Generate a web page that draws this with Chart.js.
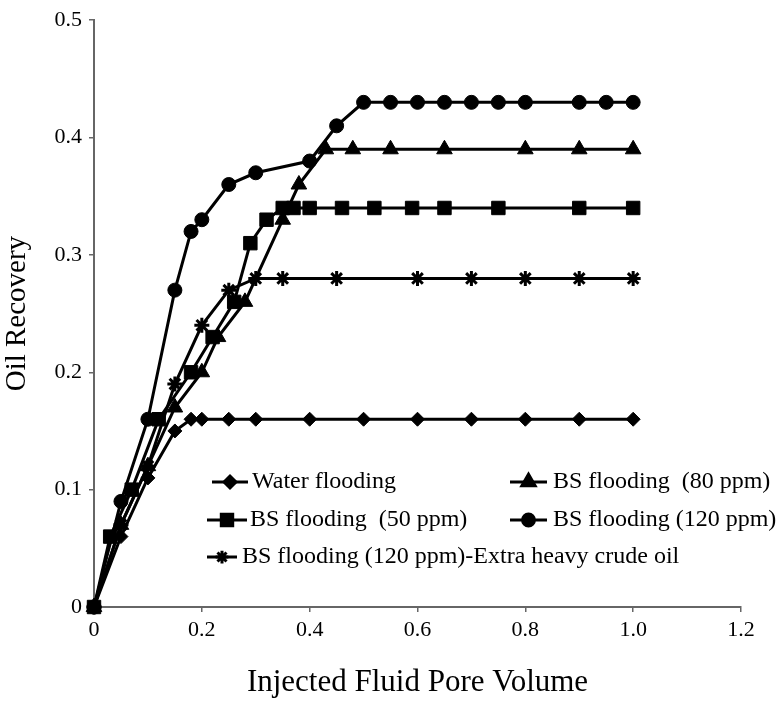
<!DOCTYPE html>
<html>
<head>
<meta charset="utf-8">
<title>Oil Recovery</title>
<script src="https://cdn.jsdelivr.net/npm/chart.js@4.4.1/dist/chart.umd.min.js"></script>
<style>
    body { margin: 0; background: #fff; }
    #chartBox { width: 782px; height: 702px; }
</style>
</head>
<body>
<div id="chartBox"><canvas id="recoveryChart" width="782" height="702"></canvas></div>
<script>
    // Axis ticks
    var xTicks = [0, 0.2, 0.4, 0.6, 0.8, 1.0, 1.2];
    var xTickLabels = ['0', '0.2', '0.4', '0.6', '0.8', '1.0', '1.2'];
    var yTicks = [0, 0.1, 0.2, 0.3, 0.4, 0.5];
    var yTickLabels = ['0', '0.1', '0.2', '0.3', '0.4', '0.5'];

    // Water flooding
    var waterX = [0, 0.05, 0.1, 0.15, 0.18, 0.2, 0.25, 0.3, 0.4, 0.5, 0.6, 0.7, 0.8, 0.9, 1.0];
    var waterY = [0, 0.06, 0.11, 0.15, 0.16, 0.16, 0.16, 0.16, 0.16, 0.16, 0.16, 0.16, 0.16, 0.16, 0.16];

    // BS flooding (50 ppm)
    var bs50X = [0, 0.03, 0.07, 0.12, 0.18, 0.22, 0.26, 0.29, 0.32, 0.35, 0.37, 0.4, 0.46, 0.52, 0.59, 0.65, 0.75, 0.9, 1.0];
    var bs50Y = [0, 0.06, 0.1, 0.16, 0.2, 0.23, 0.26, 0.31, 0.33, 0.34, 0.34, 0.34, 0.34, 0.34, 0.34, 0.34, 0.34, 0.34, 0.34];

    // BS flooding (80 ppm)
    var bs80X = [0, 0.05, 0.1, 0.15, 0.2, 0.23, 0.28, 0.35, 0.38, 0.43, 0.48, 0.55, 0.65, 0.8, 0.9, 1.0];
    var bs80Y = [0, 0.07, 0.12, 0.17, 0.2, 0.23, 0.26, 0.33, 0.36, 0.39, 0.39, 0.39, 0.39, 0.39, 0.39, 0.39];

    // BS flooding (120 ppm)
    var bs120X = [0, 0.05, 0.1, 0.15, 0.18, 0.2, 0.25, 0.3, 0.4, 0.45, 0.5, 0.55, 0.6, 0.65, 0.7, 0.75, 0.8, 0.9, 0.95, 1.0];
    var bs120Y = [0, 0.09, 0.16, 0.27, 0.32, 0.33, 0.36, 0.37, 0.38, 0.41, 0.43, 0.43, 0.43, 0.43, 0.43, 0.43, 0.43, 0.43, 0.43, 0.43];

    // BS flooding (120 ppm) - extra heavy crude oil
    var heavyX = [0, 0.05, 0.1, 0.15, 0.2, 0.25, 0.3, 0.35, 0.45, 0.6, 0.7, 0.8, 0.9, 1.0];
    var heavyY = [0, 0.07, 0.12, 0.19, 0.24, 0.27, 0.28, 0.28, 0.28, 0.28, 0.28, 0.28, 0.28, 0.28];

    (function() {
        'use strict';

        const SERIF = '"Liberation Serif", "Times New Roman", serif';

        _init();

        function _init(){
            var datasets = [
                _configSeries('Water flooding', waterX, waterY, 'rectRot', 7),
                _configSeries('BS flooding  (50 ppm)', bs50X, bs50Y, 'rect', 9.5),
                _configSeries('BS flooding (120 ppm)-Extra heavy crude oil', heavyX, heavyY, 'star', 7.5),
                _configSeries('BS flooding  (80 ppm)', bs80X, bs80Y, 'triangle', 9),
                _configSeries('BS flooding (120 ppm)', bs120X, bs120Y, 'circle', 7)
            ];

            new Chart(document.getElementById('recoveryChart'), {
                type: 'line',
                data: { datasets: datasets },
                options: {
                    responsive: false,
                    animation: false,
                    layout: { padding: { top: 10, right: 41, left: 0, bottom: 0 } },
                    plugins: {
                        legend: { display: false },
                        tooltip: { enabled: false }
                    },
                    scales: {
                        x: _configAxis(xTicks, xTickLabels, 'Injected Fluid Pore Volume', true),
                        y: _configAxis(yTicks, yTickLabels, 'Oil Recovery', false)
                    }
                },
                plugins: [_legendPlugin()]
            });
        }

        function _configSeries(label, xs, ys, style, radius){
            var points = [];
            for(var i = 0; i < xs.length; i++){
                points.push({ x: xs[i], y: ys[i] });
            }
            return {
                label: label,
                data: points,
                borderColor: '#000',
                backgroundColor: '#000',
                borderWidth: 3,
                tension: 0,
                clip: false,
                pointStyle: style,
                pointRadius: radius,
                pointBorderWidth: style === 'star' ? 3 : 1,
                pointBackgroundColor: '#000',
                pointBorderColor: '#000'
            };
        }

        function _configAxis(ticks, labels, title, isX){
            return {
                type: 'linear',
                min: ticks[0],
                max: ticks[ticks.length - 1],
                afterBuildTicks: function(scale){
                    scale.ticks = ticks.map(function(v){ return { value: v }; });
                },
                afterFit: function(scale){
                    if(isX){ scale.height = 95; } else { scale.width = 94; }
                },
                ticks: {
                    autoSkip: false,
                    maxRotation: 0,
                    padding: isX ? 5 : 7,
                    color: '#000',
                    font: { family: SERIF, size: 22 },
                    callback: function(value, index){ return labels[index]; }
                },
                grid: {
                    drawOnChartArea: false,
                    drawTicks: true,
                    tickLength: 5,
                    color: '#666',
                    lineWidth: 1.5
                },
                border: { display: true, color: '#666', width: 2 },
                title: {
                    display: true,
                    text: title,
                    color: '#000',
                    font: { family: SERIF, size: isX ? 31 : 29 },
                    padding: { top: 0, bottom: isX ? 1 : 0 }
                }
            };
        }

        // Legend drawn inside the plot, two columns like the original figure
        function _legendPlugin(){
            var spots = [
                { x1: 212, x2: 248, tx: 252, y: 482 },
                { x1: 207, x2: 247, tx: 250, y: 520 },
                { x1: 207, x2: 237, tx: 242, y: 557 },
                { x1: 510, x2: 547, tx: 553, y: 482 },
                { x1: 510, x2: 547, tx: 553, y: 520 }
            ];
            return {
                id: 'inlineLegend',
                afterDraw: function(chart){
                    var ctx = chart.ctx;
                    ctx.save();
                    chart.data.datasets.forEach(function(ds, i){
                        var s = spots[i];
                        ctx.strokeStyle = '#000';
                        ctx.lineWidth = 3;
                        ctx.beginPath();
                        ctx.moveTo(s.x1, s.y);
                        ctx.lineTo(s.x2, s.y);
                        ctx.stroke();
                        ctx.fillStyle = '#000';
                        Chart.helpers.drawPoint(ctx, {
                            pointStyle: ds.pointStyle,
                            radius: ds.pointRadius * 0.85,
                            rotation: 0,
                            borderWidth: ds.pointBorderWidth
                        }, (s.x1 + s.x2) / 2, s.y);
                        ctx.fillStyle = '#000';
                        ctx.font = '24px ' + SERIF;
                        ctx.textBaseline = 'middle';
                        ctx.textAlign = 'left';
                        ctx.fillText(ds.label, s.tx, s.y);
                    });
                    ctx.restore();
                }
            };
        }
    })();
</script>
</body>
</html>
